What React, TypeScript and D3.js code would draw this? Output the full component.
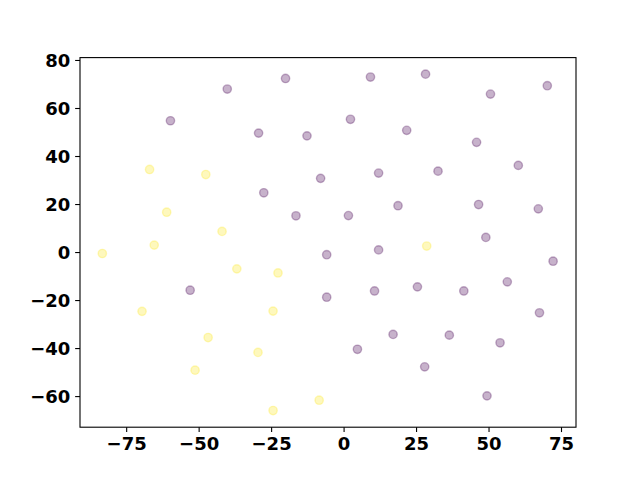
import React from "react";
import * as d3 from "d3";

const purpleX = [-59.9, -40.3, -20.2, -29.5, -12.8, -8.1, -27.7, -16.6, -6.0, -53.1, -6.0, 9.1, 28.1, 50.5, 70.1, 2.2, 21.6, 45.7, 11.9, 32.4, 60.1, 1.5, 18.6, 46.4, 67.0, 11.9, 48.9, 72.1, 56.3, 10.5, 25.3, 41.3, 67.4, 16.9, 36.3, 53.8, 4.6, 27.8, 49.3];
const purpleY = [54.9, 68.1, 72.5, 49.75, 48.6, 30.9, 24.9, 15.3, -0.9, -15.7, -18.6, 73.1, 74.3, 66.0, 69.5, 55.5, 50.9, 45.9, 33.1, 33.9, 36.3, 15.4, 19.5, 20.0, 18.2, 1.1, 6.3, -3.6, -12.2, -16.0, -14.3, -16.0, -25.1, -34.1, -34.4, -37.6, -40.3, -47.6, -59.7];
const yellowX = [-67.1, -47.7, -61.2, -42.1, -83.4, -65.5, -37.0, -22.8, -69.7, -24.5, -46.9, -29.7, -51.4, -8.6, -24.5, 28.5];
const yellowY = [34.6, 32.5, 16.8, 8.8, -0.4, 3.1, -6.8, -8.5, -24.5, -24.4, -35.4, -41.6, -49.0, -61.5, -65.8, 2.7];
const xTicks = [-75, -50, -25, 0, 25, 50, 75];
const yTicks = [-60, -40, -20, 0, 20, 40, 60, 80];

const W = 640, H = 480;
const L = 80, R = 576, T = 57.6, B = 427.2;

export default function App() {
  const x = d3.scaleLinear().domain([-91.1, 80.0]).range([L, R]);
  const y = d3.scaleLinear().domain([-72.75, 81.2]).range([B, T]);
  const fmt = (v: number) => (v < 0 ? "\u2212" + Math.abs(v) : String(v));
  const groups = [
    { xs: purpleX, ys: purpleY, color: "#440154" },
    { xs: yellowX, ys: yellowY, color: "#fde725" },
  ];
  return (
    <svg width={W} height={H} style={{ position: "absolute", left: 0, top: 0 }} fontFamily="'DejaVu Sans', sans-serif">
      <rect x={0} y={0} width={W} height={H} fill="#fff" />
      {groups.map((g, gi) =>
        g.xs.map((xv, i) => (
          <circle key={gi + "-" + i} cx={x(xv)} cy={y(g.ys[i])} r={4.17}
            fill={g.color} fillOpacity={0.3} stroke={g.color} strokeOpacity={0.3} strokeWidth={1.39} />
        ))
      )}
      <rect x={L} y={T} width={R - L} height={B - T} fill="none" stroke="#000" strokeWidth={1.1} />
      {xTicks.map((t) => (
        <g key={"x" + t}>
          <line x1={x(t)} x2={x(t)} y1={B} y2={B + 4.86} stroke="#000" strokeWidth={1.1} />
          <text x={x(t)} y={B + 9.7} textAnchor="middle" dominantBaseline="hanging" fontSize={18} fontWeight="bold">{fmt(t)}</text>
        </g>
      ))}
      {yTicks.map((t) => (
        <g key={"y" + t}>
          <line x1={L - 4.86} x2={L} y1={y(t)} y2={y(t)} stroke="#000" strokeWidth={1.1} />
          <text x={L - 9.7} y={y(t)} textAnchor="end" dominantBaseline="central" fontSize={18} fontWeight="bold">{fmt(t)}</text>
        </g>
      ))}
    </svg>
  );
}
